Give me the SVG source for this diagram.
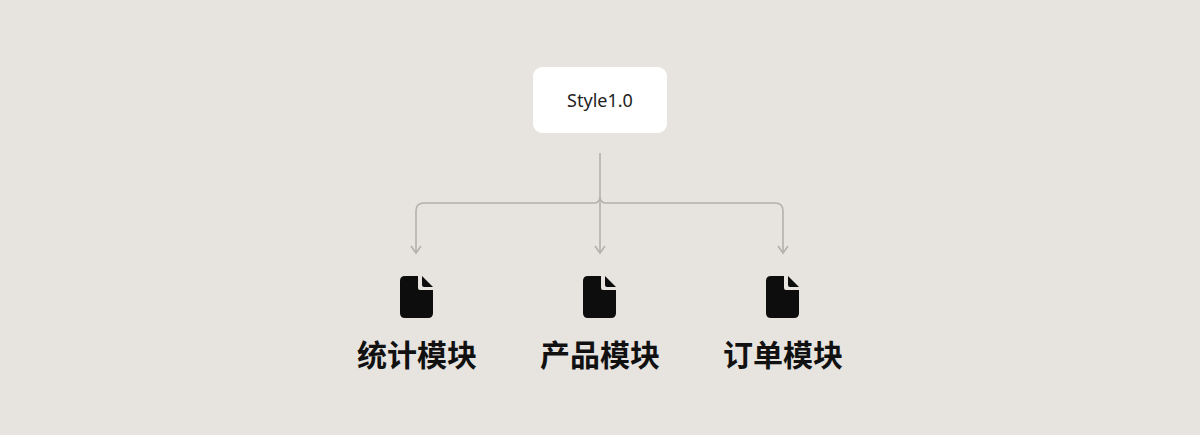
<svg xmlns="http://www.w3.org/2000/svg" width="1200" height="435" viewBox="0 0 1200 435">
<style>
.lbl{font-family:"Noto Sans CJK SC","Noto Sans",sans-serif;font-size:30px;font-weight:bold;fill:#111;text-anchor:middle}
.conn{fill:none;stroke:#b4b1ad;stroke-width:1.6}
</style>
<defs>
<marker id="ah" markerWidth="10" markerHeight="12" refX="8" refY="6" orient="auto" markerUnits="userSpaceOnUse" viewBox="0 0 10 12"><path d="M1,1 L8,6 L1,11" fill="none" stroke="#b4b1ad" stroke-width="1.6"/></marker>
<g id="doc"><path d="M-12,-21 H1 V-9 Q1,-7 3,-7 H16 V16 Q16,21 11,21 H-12 Q-17,21 -17,16 V-16 Q-17,-21 -12,-21 Z" fill="#0d0d0d"/><path d="M5,-21 L16,-10 H7 Q5,-10 5,-12 Z" fill="#0d0d0d"/></g>
</defs>
<rect width="1200" height="435" fill="#e7e3df"/>
<g id="root"><rect x="533" y="67" width="134" height="66" rx="9" fill="#fff"/><text x="600" y="107" font-family="'Noto Sans',sans-serif" font-size="18" fill="#222" text-anchor="middle">Style1.0</text></g>
<g id="connectors">
<path class="conn" d="M600,153 V253" marker-end="url(#ah)"/>
<path class="conn" d="M596,203 H424 Q416,203 416,211 V253" marker-end="url(#ah)"/>
<path class="conn" d="M604,203 H775 Q783,203 783,211 V253" marker-end="url(#ah)"/>
<path class="conn" d="M596,203 Q600,201 600,197 Q600,201 604,203"/>
</g>
<g id="n1"><use href="#doc" x="417" y="297"/><text class="lbl" x="417" y="366">统计模块</text></g>
<g id="n2"><use href="#doc" x="600" y="297"/><text class="lbl" x="600" y="366">产品模块</text></g>
<g id="n3"><use href="#doc" x="783" y="297"/><text class="lbl" x="783" y="366">订单模块</text></g>
</svg>
